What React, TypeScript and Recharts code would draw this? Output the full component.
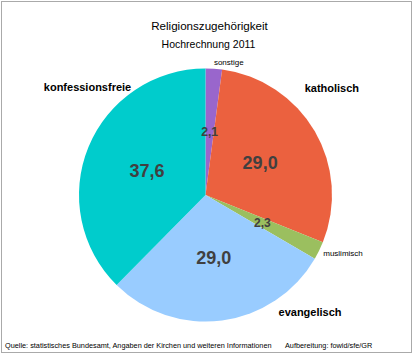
import React from "react";
import { PieChart, Pie, Cell } from "recharts";

const categories = ["sonstige", "katholisch", "muslimisch", "evangelisch", "konfessionsfreie"];
const shares = [2.1, 29.0, 2.3, 29.0, 37.6];
const colors = ["#9966CC", "#EB613F", "#9BBF5F", "#99CCFF", "#00CCCC"];
// name-label placement relative to the pie: [angle in degrees, radius factor, font size, bold]
const namePlacement: [number, number, number, boolean][] = [
  [80, 1.06, 8, false],
  [40.3, 1.31, 11, true],
  [-22.9, 1.18, 8, false],
  [-48.2, 1.24, 11, true],
  [137.5, 1.265, 11, true],
];

const data = categories.map((name, i) => ({ name, value: shares[i] }));
const RAD = Math.PI / 180;
const FONT = '"Liberation Sans", Arial, sans-serif';

const renderLabel = (props: any) => {
  const { cx, cy, midAngle, outerRadius, index, value } = props;
  const r = outerRadius * 0.5;
  const vx = cx + r * Math.cos(-midAngle * RAD);
  const vy = cy + r * Math.sin(-midAngle * RAD);
  const [ang, k, fs, bold] = namePlacement[index];
  const nx = cx + outerRadius * k * Math.cos(-ang * RAD);
  const ny = cy + outerRadius * k * Math.sin(-ang * RAD);
  const small = value < 5;
  return (
    <g>
      <text x={vx} y={vy} textAnchor="middle" dominantBaseline="central" fill="#404040"
        fontFamily={FONT} fontWeight="bold" fontSize={small ? 12 : 18}>
        {value.toFixed(1).replace(".", ",")}
      </text>
      <text x={nx} y={ny} textAnchor="middle" dominantBaseline="central" fill="#000"
        fontFamily={FONT} fontWeight={bold ? "bold" : "normal"} fontSize={fs}>
        {categories[index]}
      </text>
    </g>
  );
};

export default function App() {
  return (
    <div style={{ position: "absolute", left: 0, top: 0, width: 413, height: 353, background: "#fff", fontFamily: FONT, lineHeight: "normal" }}>
      <div style={{ position: "absolute", left: 1, top: 1, width: 409, height: 350, border: "1px solid #AAAAAA" }} />
      <div style={{ position: "absolute", left: 0, width: 419, top: 18.5, textAlign: "center", fontSize: 11.6, color: "#000" }}>
        Religionszugehörigkeit
      </div>
      <div style={{ position: "absolute", left: 0, width: 417, top: 38.2, textAlign: "center", fontSize: 10.5, color: "#000" }}>
        Hochrechnung 2011
      </div>
      <div style={{ position: "absolute", left: 0, top: 0 }}>
        <PieChart width={413} height={353} margin={{ top: 0, right: 0, bottom: 0, left: 0 }}>
          <Pie
            data={data}
            dataKey="value"
            nameKey="name"
            cx={205.5}
            cy={195}
            outerRadius={126.5}
            startAngle={90}
            endAngle={-270}
            stroke="none"
            label={renderLabel}
            labelLine={false}
            isAnimationActive={false}
          >
            {data.map((d, i) => (
              <Cell key={d.name} fill={colors[i]} />
            ))}
          </Pie>
        </PieChart>
      </div>
      <div style={{ position: "absolute", left: 5, top: 341.4, fontSize: 7.3, color: "#000", whiteSpace: "nowrap" }}>
        Quelle: statistisches Bundesamt, Angaben der Kirchen und weiteren Informationen
      </div>
      <div style={{ position: "absolute", left: 285, top: 341.4, fontSize: 7.3, color: "#000", whiteSpace: "nowrap" }}>
        Aufbereitung: fowid/sfe/GR
      </div>
    </div>
  );
}
